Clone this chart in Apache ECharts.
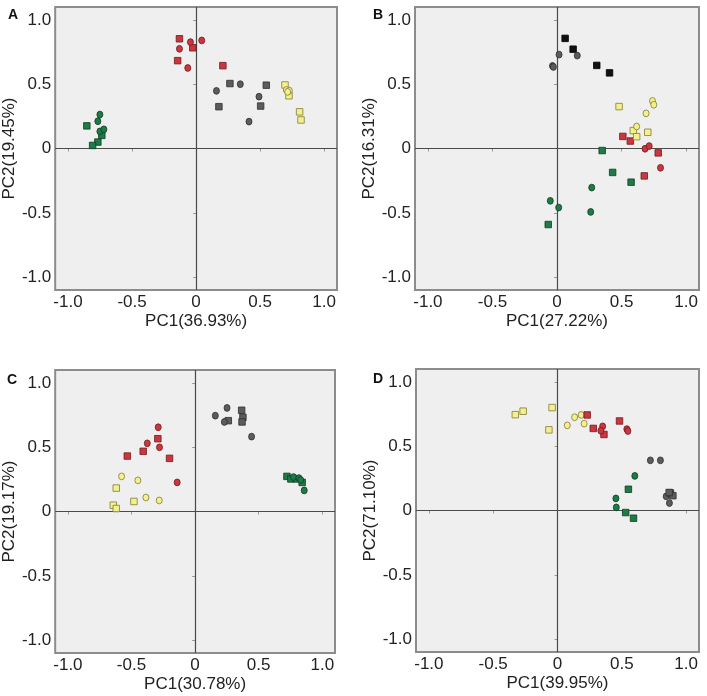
<!DOCTYPE html>
<html>
<head>
<meta charset="utf-8">
<script src="https://cdn.jsdelivr.net/npm/echarts@6/dist/echarts.min.js"></script>
<style>
html,body{margin:0;padding:0;background:#fff;}
#chart{width:707px;height:696px;}
</style>
</head>
<body>
<div id="chart"></div>
<script>
// ---------- data ----------
const tickValues = [-1, -0.5, 0, 0.5, 1];
const panelLabels = ['A', 'B', 'C', 'D'];
const xNames = ['PC1(36.93%)', 'PC1(27.22%)', 'PC1(30.78%)', 'PC1(39.95%)'];
const yNames = ['PC2(19.45%)', 'PC2(16.31%)', 'PC2(19.17%)', 'PC2(71.10%)'];

// Panel A
const A_redSq  = [[-0.13,0.853],[-0.026,0.783],[-0.144,0.683],[0.209,0.644]];
const A_redCi  = [[-0.044,0.827],[-0.13,0.775],[0.044,0.84],[-0.065,0.626]];
const A_graySq = [[0.264,0.505],[0.548,0.492],[0.178,0.325],[0.504,0.33]];
const A_grayCi = [[0.159,0.448],[0.345,0.5],[0.491,0.403],[0.413,0.209]];
const A_yelSq  = [[0.694,0.494],[0.725,0.41],[0.808,0.285],[0.819,0.222]];
const A_yelCi  = [[0.705,0.455],[0.728,0.45],[0.715,0.44]];
const A_grnSq  = [[-0.853,0.176],[-0.736,0.102],[-0.767,0.05],[-0.808,0.024]];
const A_grnCi  = [[-0.751,0.264],[-0.767,0.212],[-0.751,0.133],[-0.72,0.149]];

// Panel B
const B_blkSq  = [[0.063,0.856],[0.125,0.772],[0.308,0.646],[0.407,0.588]];
const B_grayCi = [[-0.035,0.642],[-0.028,0.634],[0.016,0.73],[0.157,0.722]];
const B_grnSq  = [[0.35,-0.016],[0.431,-0.186],[0.574,-0.262],[-0.068,-0.591]];
const B_grnCi  = [[-0.052,-0.407],[0.013,-0.459],[0.269,-0.304],[0.261,-0.493]];
const B_redSq  = [[0.51,0.094],[0.568,0.058],[0.784,-0.034],[0.676,-0.213]];
const B_redCi  = [[0.682,-0.002],[0.714,0.019],[0.802,-0.15]];
const B_yelSq  = [[0.481,0.326],[0.591,0.139],[0.617,0.092],[0.703,0.126]];
const B_yelCi  = [[0.74,0.37],[0.75,0.34],[0.69,0.273],[0.617,0.171]];

// Panel C
const C_graySq = [[0.261,0.706],[0.366,0.787],[0.376,0.732],[0.369,0.696]];
const C_grayCi = [[0.159,0.745],[0.251,0.805],[0.23,0.696],[0.444,0.582]];
const C_redSq  = [[-0.293,0.566],[-0.408,0.468],[-0.533,0.431],[-0.201,0.413]];
const C_redCi  = [[-0.29,0.655],[-0.376,0.53],[-0.28,0.499],[-0.141,0.226]];
const C_yelSq  = [[-0.62,0.182],[-0.481,0.078],[-0.643,0.049],[-0.62,0.023]];
const C_yelCi  = [[-0.578,0.273],[-0.45,0.242],[-0.387,0.109],[-0.282,0.086]];
const C_grnSq  = [[0.722,0.273],[0.753,0.253],[0.795,0.253],[0.842,0.226]];
const C_grnCi  = [[0.774,0.268],[0.816,0.26],[0.83,0.245],[0.858,0.164]];

// Panel D
const D_yelSq  = [[-0.328,0.745],[-0.267,0.772],[-0.042,0.8],[-0.067,0.627]];
const D_yelCi  = [[0.076,0.662],[0.133,0.725],[0.184,0.743],[0.207,0.675]];
const D_redSq  = [[0.231,0.743],[0.278,0.638],[0.361,0.591],[0.482,0.696]];
const D_redCi  = [[0.351,0.654],[0.337,0.62],[0.539,0.633],[0.547,0.618]];
const D_grnSq  = [[0.551,0.165],[0.53,-0.016],[0.591,-0.06]];
const D_grnCi  = [[0.601,0.269],[0.454,0.094],[0.457,0.024]];
const D_grayCi = [[0.722,0.39],[0.8,0.39],[0.845,0.11],[0.87,0.058]];
const D_graySq = [[0.878,0.136],[0.897,0.115],[0.868,0.14]];

// ---------- styles ----------
const STY = {
  red:   {color:'#cc3640', borderColor:'#6e1a1e'},
  green: {color:'#1e7a46', borderColor:'#0d3f22'},
  gray:  {color:'#5c5c5c', borderColor:'#2e2e2e'},
  yel:   {color:'#f4f08c', borderColor:'#7f7b3a'},
  blk:   {color:'#111111', borderColor:'#000000'}
};

const panelSeries = [
  [[A_redSq,'red','rect'],[A_redCi,'red','circle'],[A_graySq,'gray','rect'],[A_grayCi,'gray','circle'],
   [A_yelSq,'yel','rect'],[A_yelCi,'yel','circle'],[A_grnSq,'green','rect'],[A_grnCi,'green','circle']],
  [[B_blkSq,'blk','rect'],[B_grayCi,'gray','circle'],[B_grnSq,'green','rect'],[B_grnCi,'green','circle'],
   [B_redSq,'red','rect'],[B_redCi,'red','circle'],[B_yelSq,'yel','rect'],[B_yelCi,'yel','circle']],
  [[C_graySq,'gray','rect'],[C_grayCi,'gray','circle'],[C_redSq,'red','rect'],[C_redCi,'red','circle'],
   [C_yelSq,'yel','rect'],[C_yelCi,'yel','circle'],[C_grnSq,'green','rect'],[C_grnCi,'green','circle']],
  [[D_yelSq,'yel','rect'],[D_yelCi,'yel','circle'],[D_redSq,'red','rect'],[D_redCi,'red','circle'],
   [D_grnSq,'green','rect'],[D_grnCi,'green','circle'],[D_grayCi,'gray','circle'],[D_graySq,'gray','rect']]
];

const grids = [
  {left:53, top:7,   width:284, height:283},
  {left:415, top:7,  width:284, height:283},
  {left:52, top:370, width:283, height:283},
  {left:416, top:369,width:283, height:283}
];
const labelPos = [[8,8],[373,8],[7,373],[373,372]];

const FONT = 'Liberation Sans, Arial, sans-serif';
const fmt = v => (Math.abs(v) < 1e-9 ? '0' : v.toFixed(1));

const option = {
  animation:false,
  backgroundColor:'#ffffff',
  title: panelLabels.map((t,i)=>({
    text:t, left:labelPos[i][0], top:labelPos[i][1], padding:0,
    textStyle:{fontFamily:FONT, fontWeight:'bold', fontSize:14, color:'#111'}
  })),
  grid: grids.map(g=>Object.assign({show:true, backgroundColor:'#efefef', borderColor:'#8c8c8c', borderWidth:2}, g)),
  xAxis: grids.map((g,i)=>({
    type:'value', gridIndex:i, min:-1.1, max:1.1,
    name:xNames[i], nameLocation:'middle', nameGap:23,
    nameTextStyle:{fontFamily:FONT, fontSize:17, color:'#222'},
    axisLine:{show:false},
    axisTick:{show:true, length:3, customValues:tickValues, lineStyle:{color:'#9a9a9a'}},
    axisLabel:{show:true, customValues:tickValues, formatter:fmt, margin:4, fontFamily:FONT, fontSize:17, color:'#222'},
    splitLine:{show:false}
  })),
  yAxis: grids.map((g,i)=>({
    type:'value', gridIndex:i, min:-1.1, max:1.1,
    name:yNames[i], nameLocation:'middle', nameGap:28,
    nameTextStyle:{fontFamily:FONT, fontSize:17, color:'#222'},
    axisLine:{show:false},
    axisTick:{show:true, length:3, customValues:tickValues, lineStyle:{color:'#9a9a9a'}},
    axisLabel:{show:true, customValues:tickValues, formatter:fmt, margin:4, fontFamily:FONT, fontSize:17, color:'#222'},
    splitLine:{show:false}
  })),
  series: []
};

panelSeries.forEach((list, pi)=>{
  list.forEach(([data, col, shape], si)=>{
    const s = {
      type:'scatter', xAxisIndex:pi, yAxisIndex:pi, data:data,
      symbol:shape, symbolSize: shape==='rect' ? 6.5 : [6,6.8],
      itemStyle:{color:STY[col].color, borderColor:STY[col].borderColor, borderWidth:0.8, opacity:1},
      z:5
    };
    if (si===0) {
      s.markLine = {
        silent:true, symbol:'none', animation:false, z:3,
        label:{show:false},
        lineStyle:{color:'#4a4a4a', width:1.2, type:'solid'},
        data:[{xAxis:0},{yAxis:0}]
      };
    }
    option.series.push(s);
  });
});

const chart = echarts.init(document.getElementById('chart'), null, {renderer:'canvas'});
chart.setOption(option);
</script>
</body>
</html>
